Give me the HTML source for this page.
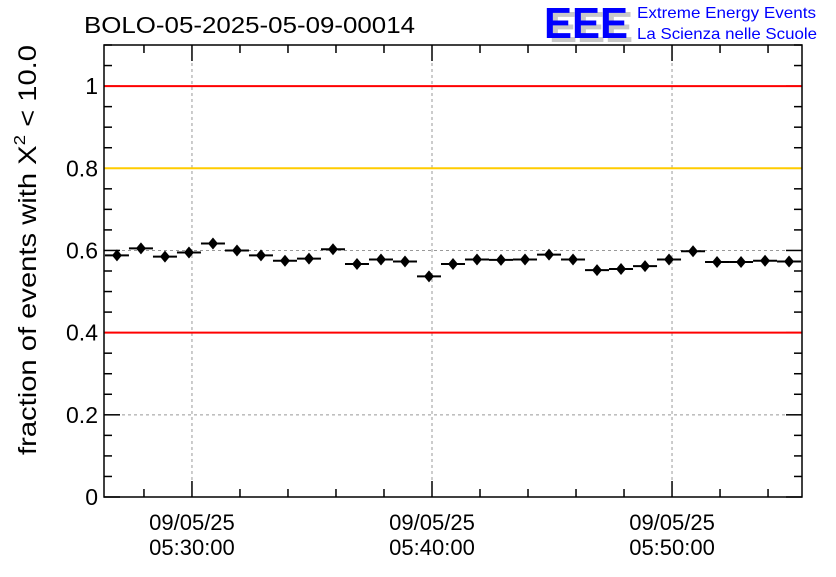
<!DOCTYPE html>
<html><head><meta charset="utf-8"><style>
body{margin:0;background:#fff;width:836px;height:572px;overflow:hidden}
svg{font-family:"Liberation Sans",sans-serif}
</style></head><body>
<svg id="c" width="836" height="572" viewBox="0 0 836 572" xmlns="http://www.w3.org/2000/svg">
<text x="84" y="33" font-size="23" textLength="331" lengthAdjust="spacingAndGlyphs">BOLO-05-2025-05-09-00014</text>
<g>
<text x="549" y="42" font-size="44" font-weight="bold" fill="#c8c8c8" textLength="84" lengthAdjust="spacingAndGlyphs">EEE</text>
<text x="544" y="38" font-size="44" font-weight="bold" fill="#0000ff" textLength="84" lengthAdjust="spacingAndGlyphs">EEE</text>
<text x="637" y="18" font-size="16" fill="#0000ff" textLength="179" lengthAdjust="spacingAndGlyphs">Extreme Energy Events</text>
<text x="637" y="39" font-size="16" fill="#0000ff" textLength="180" lengthAdjust="spacingAndGlyphs">La Scienza nelle Scuole</text>
</g>
<text transform="translate(36,250) rotate(-90)" text-anchor="middle" font-size="25" textLength="410" lengthAdjust="spacingAndGlyphs">fraction of events with X<tspan font-size="16" dy="-11">2</tspan><tspan dy="11"> &lt; 10.0</tspan></text>
<g id="plot"></g>
</svg>
<script>
const minutes = [0,1,2,3,4,5,6,7,8,9,10,11,12,13,14,15,16,17,18,19,20,21,22,23,24,25,26,27,28];
const fractions = [0.588,0.605,0.585,0.595,0.617,0.600,0.588,0.575,0.580,0.603,0.567,0.578,0.573,0.537,0.567,0.578,0.577,0.578,0.590,0.578,0.552,0.555,0.562,0.578,0.598,0.572,0.572,0.575,0.573];
const errors = [0.008,0.008,0.008,0.008,0.008,0.008,0.008,0.008,0.008,0.008,0.008,0.008,0.008,0.008,0.008,0.008,0.008,0.008,0.008,0.008,0.008,0.008,0.008,0.008,0.008,0.008,0.008,0.008,0.008];
const yTicks = [0,0.2,0.4,0.6,0.8,1];
const yTickLabels = ["0","0.2","0.4","0.6","0.8","1"];
const xTickMinutes = [3.125,13.125,23.125];
const xTickLabels = [["09/05/25","05:30:00"],["09/05/25","05:40:00"],["09/05/25","05:50:00"]];
const refLines = [1,0.8,0.4];
const refColors = ["#ff0000","#ffcc00","#ff0000"];

const L=104,R=802,T=45,B=497;
const xMin=-0.54,xMax=28.54,yMin=0,yMax=1.1;
const X=m=>L+(m-xMin)/(xMax-xMin)*(R-L);
const Y=v=>B-(v-yMin)/(yMax-yMin)*(B-T);
const NS="http://www.w3.org/2000/svg";
const g=document.getElementById('plot');
function mk(tag,attrs,parent){const e=document.createElementNS(NS,tag);for(const k in attrs)e.setAttribute(k,attrs[k]);(parent||g).appendChild(e);return e;}

// grid
xTickMinutes.forEach(m=>{const e=mk('line',{x1:X(m),x2:X(m),y1:T,y2:B,stroke:'#999','stroke-dasharray':'3,3'});

});
yTicks.forEach(v=>{if(v===0)return;const e=mk('line',{x1:L,x2:R,y1:Y(v),y2:Y(v),stroke:'#999','stroke-dasharray':'3,3'});

});
// y ticks
for(let v=0;v<=1.1001;v+=0.05){const major=Math.abs(v*5-Math.round(v*5))<1e-6;const len=major?16:8;
mk('line',{x1:L,x2:L+len,y1:Y(v),y2:Y(v),stroke:'#000','stroke-width':1.5});
mk('line',{x1:R,x2:R-len,y1:Y(v),y2:Y(v),stroke:'#000','stroke-width':1.5});}
yTicks.forEach((v,i)=>{const t=mk('text',{x:L-6,y:Y(v)+8,'text-anchor':'end','font-size':23});t.textContent=yTickLabels[i];

});
// x ticks
for(let m=xTickMinutes[0]-10;m<=xMax;m+=2){if(m<xMin)continue;const major=xTickMinutes.some(t=>Math.abs(t-m)<1e-6);const len=major?16:8;
mk('line',{x1:X(m),x2:X(m),y1:B,y2:B-len,stroke:'#000','stroke-width':1.5});
mk('line',{x1:X(m),x2:X(m),y1:T,y2:T+len,stroke:'#000','stroke-width':1.5});}
xTickMinutes.forEach((m,i)=>{[0,1].forEach(j=>{const t=mk('text',{x:X(m),y:530+j*25,'text-anchor':'middle','font-size':22});t.textContent=xTickLabels[i][j];

});});
// ref lines
refLines.forEach((v,i)=>{const e=mk('line',{x1:L,x2:R,y1:Y(v),y2:Y(v),stroke:refColors[i],'stroke-width':2});

});
// frame
const fr=mk('rect',{x:L,y:T,width:R-L,height:B-T,fill:'none',stroke:'#000','stroke-width':1.5});


// points
minutes.forEach((m,i)=>{const x=X(m),y=Y(fractions[i]);
const pg=mk('g',{});


mk('line',{x1:X(m-0.5),x2:X(m+0.5),y1:y,y2:y,stroke:'#000','stroke-width':2},pg);
mk('line',{x1:x,x2:x,y1:Y(fractions[i]-errors[i]),y2:Y(fractions[i]+errors[i]),stroke:'#000','stroke-width':2},pg);
mk('path',{d:`M${x} ${y-6}L${x+5} ${y}L${x} ${y+6}L${x-5} ${y}Z`,fill:'#000'},pg);});
</script>
</body></html>
